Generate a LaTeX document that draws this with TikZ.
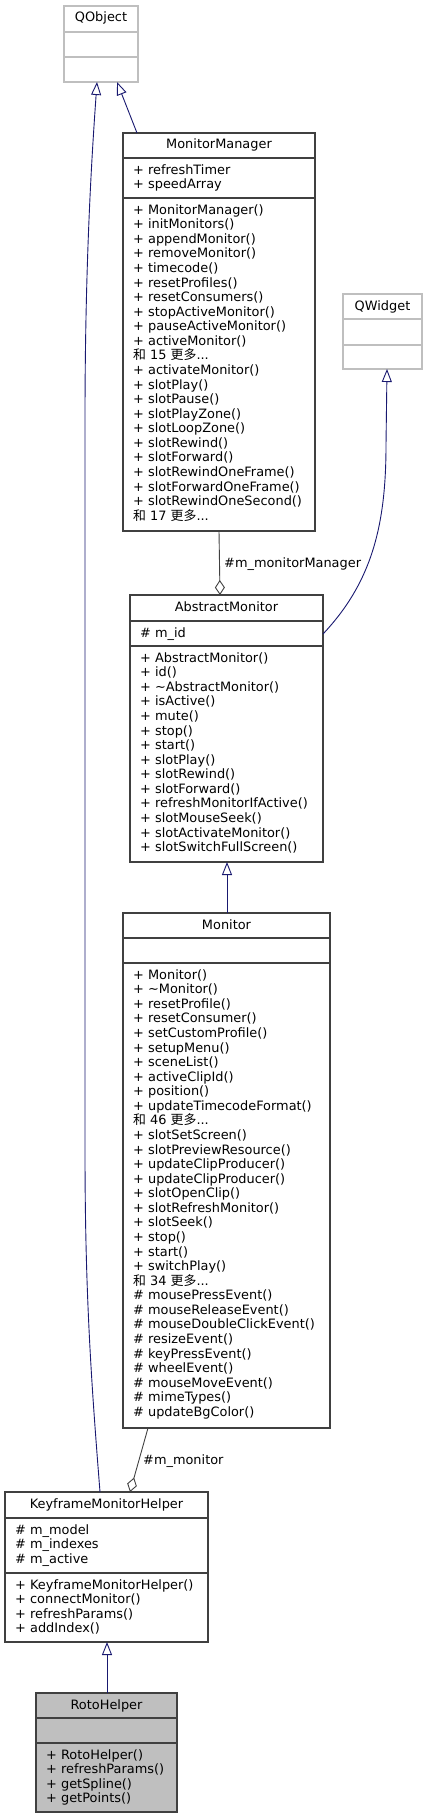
\documentclass[tikz,border=0pt]{standalone}
\usepackage{fontspec}
\setmainfont{DejaVu Sans}
\newfontfamily\cjk{Noto Sans CJK SC}
\usetikzlibrary{arrows.meta,calc}
\definecolor{edgeblue}{HTML}{191970}
\definecolor{boxc}{HTML}{404040}
\definecolor{lgray}{HTML}{BFBFBF}
\definecolor{rotofill}{HTML}{BFBFBF}
\newcommand\memfont{\fontsize{12.9pt}{14.57pt}\selectfont}
\newcommand\more[1]{{\cjk 和} #1 {\cjk 更多}...}
\newcommand\fl{\rule{0pt}{11.5pt}}
\begin{document}
\begin{tikzpicture}[x=1pt,y=-1pt,
  box/.style={draw=boxc, line width=1.3pt, fill=white, inner sep=0pt, outer sep=0pt, anchor=north west},
  gbox/.style={box, draw=lgray},
  div/.style={draw=boxc, line width=1.3pt},
  gdiv/.style={draw=lgray, line width=1.3pt},
  title/.style={anchor=base, inner sep=0pt, font=\memfont},
  mem/.style={anchor=north west, inner sep=0pt, align=left, font=\memfont},
  inh/.style={draw=edgeblue, line width=0.9pt, -{Triangle[open,length=13pt,width=10pt,fill=white]}},
  agg/.style={draw=boxc, line width=0.9pt, -{Diamond[open,length=15pt,width=10pt,fill=white]}},
  elabel/.style={anchor=base west, inner sep=0pt, font=\memfont}]
\useasboundingbox (0,0) rectangle (427,1819);

% QObject
\node[gbox, minimum width=74pt, minimum height=76pt] (qobj) at (64,6) {};
\draw[gdiv] (64,32) -- (138,32);
\draw[gdiv] (64,57) -- (138,57);
\node[title] (qobjT) at (101,22) {QObject};

% MonitorManager
\node[box, minimum width=192pt, minimum height=398pt] (mm) at (123,133) {};
\draw[div] (123,158) -- (315,158);
\draw[div] (123,198) -- (315,198);
\node[title] (mmT) at (219,149) {MonitorManager};
\node[mem] (mmA) at (133,162.5) {\fl+ refreshTimer\\+ speedArray};
\node[mem] (mmM) at (133,202.5) {\fl+ MonitorManager()\\+ initMonitors()\\+ appendMonitor()\\+ removeMonitor()\\+ timecode()\\+ resetProfiles()\\+ resetConsumers()\\+ stopActiveMonitor()\\+ pauseActiveMonitor()\\+ activeMonitor()\\\more{15}\\+ activateMonitor()\\+ slotPlay()\\+ slotPause()\\+ slotPlayZone()\\+ slotLoopZone()\\+ slotRewind()\\+ slotForward()\\+ slotRewindOneFrame()\\+ slotForwardOneFrame()\\+ slotRewindOneSecond()\\\more{17}};

% QWidget
\node[gbox, minimum width=79pt, minimum height=75pt] (qw) at (343,294) {};
\draw[gdiv] (343,319) -- (422,319);
\draw[gdiv] (343,345) -- (422,345);
\node[title] (qwT) at (382.5,310) {QWidget};

% AbstractMonitor
\node[box, minimum width=193pt, minimum height=267pt] (am) at (130,595) {};
\draw[div] (130,621) -- (323,621);
\draw[div] (130,646) -- (323,646);
\node[title] (amT) at (226.5,611) {AbstractMonitor};
\node[mem] (amA) at (140,625.5) {\fl\# m\_id};
\node[mem] (amM) at (140,650.5) {\fl+ AbstractMonitor()\\+ id()\\+ \textasciitilde AbstractMonitor()\\+ isActive()\\+ mute()\\+ stop()\\+ start()\\+ slotPlay()\\+ slotRewind()\\+ slotForward()\\+ refreshMonitorIfActive()\\+ slotMouseSeek()\\+ slotActivateMonitor()\\+ slotSwitchFullScreen()};

% Monitor
\node[box, minimum width=207pt, minimum height=515pt] (mon) at (123,913) {};
\draw[div] (123,938) -- (330,938);
\draw[div] (123,963) -- (330,963);
\node[title] (monT) at (226.5,929) {Monitor};
\node[mem] (monM) at (133,967.5) {\fl+ Monitor()\\+ \textasciitilde Monitor()\\+ resetProfile()\\+ resetConsumer()\\+ setCustomProfile()\\+ setupMenu()\\+ sceneList()\\+ activeClipId()\\+ position()\\+ updateTimecodeFormat()\\\more{46}\\+ slotSetScreen()\\+ slotPreviewResource()\\+ updateClipProducer()\\+ updateClipProducer()\\+ slotOpenClip()\\+ slotRefreshMonitor()\\+ slotSeek()\\+ stop()\\+ start()\\+ switchPlay()\\\more{34}\\\# mousePressEvent()\\\# mouseReleaseEvent()\\\# mouseDoubleClickEvent()\\\# resizeEvent()\\\# keyPressEvent()\\\# wheelEvent()\\\# mouseMoveEvent()\\\# mimeTypes()\\\# updateBgColor()};

% KeyframeMonitorHelper
\node[box, minimum width=203pt, minimum height=150pt] (kmh) at (5,1492) {};
\draw[div] (5,1518) -- (208,1518);
\draw[div] (5,1573) -- (208,1573);
\node[title] (kmhT) at (106.5,1508) {KeyframeMonitorHelper};
\node[mem] (kmhA) at (15,1522.5) {\fl\# m\_model\\\# m\_indexes\\\# m\_active};
\node[mem] (kmhM) at (15,1577.5) {\fl+ KeyframeMonitorHelper()\\+ connectMonitor()\\+ refreshParams()\\+ addIndex()};

% RotoHelper
\node[box, fill=rotofill, minimum width=141pt, minimum height=119pt] (roto) at (36,1693) {};
\draw[div] (36,1718) -- (177,1718);
\draw[div] (36,1743) -- (177,1743);
\node[title] (rotoT) at (106.5,1709) {RotoHelper};
\node[mem] (rotoM) at (46,1747.5) {\fl+ RotoHelper()\\+ refreshParams()\\+ getSpline()\\+ getPoints()};

% Edges
\draw[inh] ([xshift=14pt]mm.north west) -- ([xshift=53pt]qobj.south west);
\draw[inh] ([xshift=95pt]kmh.north west) .. controls (92,1390) and (85,1300) .. (85,1150) -- (85,420) .. controls (85,250) and (93,140) .. ([xshift=33pt]qobj.south west);
\draw[inh] ([yshift=-39pt]am.north east) .. controls (372,582) and (386,525) .. (386,445) -- ([xshift=44pt]qw.south west);
\draw[agg] ([xshift=96pt]mm.south west) -- ([xshift=90pt]am.north west);
\node[elabel] (l1) at (224,567.5) {\#m\_monitorManager};
\draw[inh] ([xshift=104pt]mon.north west) -- ([xshift=97pt]am.south west);
\draw[agg] ([xshift=25pt]mon.south west) -- ([xshift=125pt]kmh.north west);
\node[elabel] (l2) at (143,1464) {\#m\_monitor};
\draw[inh] ([xshift=71pt]roto.north west) -- ([xshift=102pt]kmh.south west);
\end{tikzpicture}
\end{document}
